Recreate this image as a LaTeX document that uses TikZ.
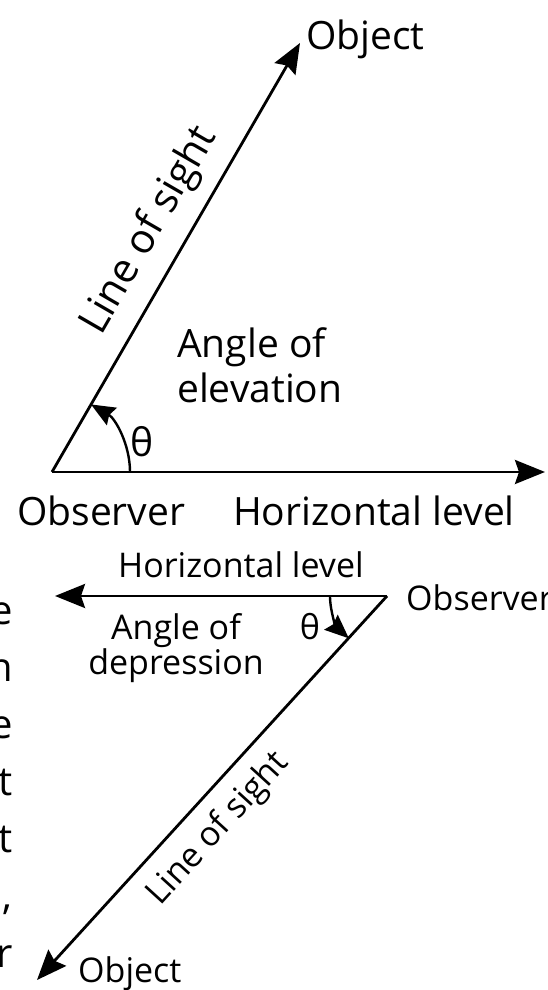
\documentclass[tikz,border=0pt]{standalone}
\usepackage{fontspec}
\setmainfont{Open Sans}
\usetikzlibrary{arrows.meta, positioning, calc}

\begin{document}
\begin{tikzpicture}[x=1pt, y=1pt,
  ray/.style={line width=2.8pt, -{Stealth[length=30pt, width=24pt, inset=4pt]}},
  sweep/.style={line width=2.4pt, -{Stealth[length=24pt, width=20pt, inset=3pt]}},
  lbl/.style={inner sep=0pt, font=\fontsize{39}{45}\selectfont},
  lblsm/.style={inner sep=0pt, font=\fontsize{34}{32}\selectfont},
  margin/.style={inner sep=0pt, font=\fontsize{40}{40}\selectfont, anchor=base east}]
\useasboundingbox (0,0) rectangle (547,990);

% Angle of elevation
\coordinate (obs1) at (52,518);
\coordinate (lvl1) at (545,518);
\coordinate (tip1) at (300,947);
\draw[ray] (obs1) -- (lvl1);
\draw[ray] (obs1) -- (tip1) node[lbl, font=\fontsize{41}{45}\selectfont, pos=0.52, sloped, above=14pt] (sight1) {Line of sight};
\draw[sweep] ($(obs1)+(78,0)$) arc[start angle=0, end angle=60, radius=78];
\node[lbl] (theta1) at (142,548) {θ};
\node[lbl, anchor=base west] (object1) at (306,940) {Object};
\node[lbl, anchor=base west] (observer1) at (17,464) {Observer};
\node[lbl, anchor=base west] (level1) at (233,464) {Horizontal level};
\node[lbl, anchor=north west, align=left] (elev) at (177,663) {Angle of\\elevation};

% Angle of depression
\coordinate (obs2) at (387,394);
\coordinate (lvl2) at (55,394);
\coordinate (tip2) at (37,10);
\draw[ray] (obs2) -- (lvl2);
\draw[ray] (obs2) -- (tip2) node[lblsm, pos=0.55, sloped, below=14pt] (sight2) {Line of sight};
\draw[sweep] ($(obs2)+(-57,0)$) arc[start angle=180, end angle=228, radius=57];
\node[lblsm] (theta2) at (310,363) {θ};
\node[lblsm, anchor=base west] (level2) at (118,412) {Horizontal level};
\node[lblsm, anchor=north, align=center] (depr) at (176,377) {Angle of\\depression};
\node[lblsm, anchor=base west] (observer2) at (406,379) {Observer};
\node[lblsm, anchor=base west] (object2) at (78,7) {Object};

% cut-off page text at the left edge
\foreach \ch/\yy in {e/365, n/308, e/251, t/194, t/137, {l,}/80, r/23}
  \node[margin] at (13,\yy) {\ch};
\end{tikzpicture}
\end{document}
